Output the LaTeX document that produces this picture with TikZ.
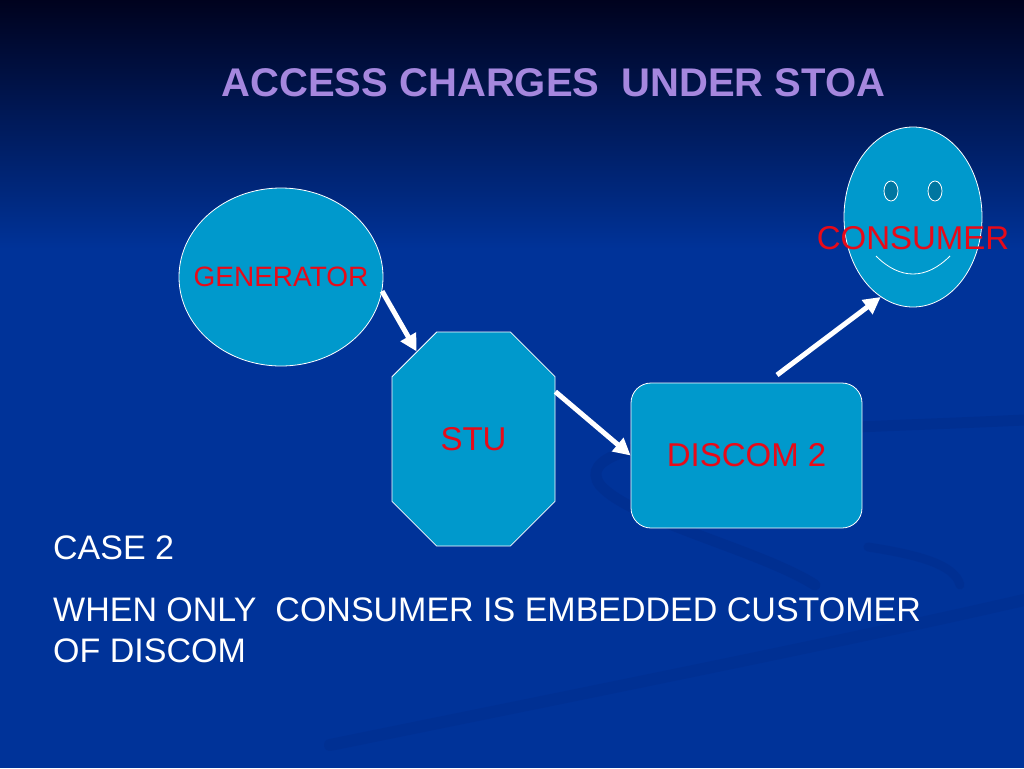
\documentclass[tikz,border=0pt]{standalone}
\usepackage{fontspec}
\setmainfont{Liberation Sans}
\usetikzlibrary{arrows.meta,shapes.geometric,shapes.misc}
\definecolor{slideTop}{RGB}{0,2,30}
\definecolor{slideBlue}{RGB}{0,51,153}
\definecolor{swooshBlue}{RGB}{0,36,125}
\definecolor{titleLilac}{RGB}{165,135,222}
\definecolor{boxTeal}{RGB}{0,153,204}
\definecolor{eyeTeal}{RGB}{0,118,160}
\definecolor{labelRed}{RGB}{232,10,24}
\newcommand{\titleSize}{\fontsize{40}{46}\selectfont}
\newcommand{\labelSize}{\fontsize{33}{38}\selectfont}
\newcommand{\smallLabelSize}{\fontsize{28}{32}\selectfont}
\newcommand{\bodySize}{\fontsize{34}{41}\selectfont}

\begin{document}
\begin{tikzpicture}[x=1pt, y=-1pt,
    shapebox/.style={fill=boxTeal, draw=white, line width=0.8pt, inner sep=0pt, text=labelRed},
    redlabel/.style={text=labelRed, inner sep=0pt},
    flow/.style={-{Triangle[length=17pt,width=17pt]}, white, line width=5pt},
    body/.style={anchor=base west, inner sep=0pt, text=white, font=\bodySize}]
  % slide background
  \useasboundingbox (0,0) rectangle (1024,768);
  \fill[slideBlue] (0,0) rectangle (1024,768);
  \shade[top color=slideTop, bottom color=slideBlue] (0,0) rectangle (1024,250);
  \draw[swooshBlue, line width=11pt, opacity=.25, line cap=round]
    (1024,420) .. controls (820,430) and (560,430) .. (600,485)
    .. controls (630,520) and (760,550) .. (815,585);
  \draw[swooshBlue, line width=9pt, opacity=.22, line cap=round]
    (868,547) .. controls (920,555) and (955,565) .. (960,585);
  \draw[swooshBlue, line width=12pt, opacity=.2, line cap=round]
    (330,745) .. controls (600,690) and (850,640) .. (1024,600);

  % nodes
  \node[shapebox, ellipse, minimum width=204pt, minimum height=178pt] (generator) at (281,277) {};
  \node[redlabel, font=\smallLabelSize] (generatorLabel) at (generator.center) {GENERATOR};
  \node[shapebox, chamfered rectangle, chamfered rectangle xsep=46pt, chamfered rectangle ysep=48pt,
        minimum width=163pt, minimum height=214pt, font=\labelSize] (stu) at (473.5,439) {STU};
  \node[shapebox, rectangle, rounded corners=20pt, minimum width=231pt, minimum height=145pt, font=\labelSize] (discom) at (746.5,455.5) {DISCOM 2};
  \node[shapebox, ellipse, minimum width=138pt, minimum height=180pt] (consumer) at (913,217) {};

  % face
  \foreach \ex in {891,935}
    \draw[fill=eyeTeal, draw=white, line width=0.8pt] (\ex,191) ellipse [x radius=7pt, y radius=10pt];
  \draw[white, line width=0.8pt] (876,256) .. controls (900,280) and (926,280) .. (950,256);
  \node[redlabel, font=\labelSize] (consumerLabel) at (913,238) {CONSUMER};

  % flows
  \draw[flow] (generator.-8) -- (stu.123);
  \draw[flow] (stu.30) -- (discom.west);
  \coordinate (discomOut) at (777,375);
  \draw[flow] (discomOut) -- (consumer.248);

  % texts
  \node[anchor=base, inner sep=0pt, text=titleLilac, font=\titleSize\bfseries] (title) at (553.5,96) {ACCESS CHARGES\ \ UNDER STOA};
  \node[body] (caseNo) at (53,559) {CASE 2};
  \node[body] (caseLine1) at (53,621) {WHEN ONLY\ \ CONSUMER IS EMBEDDED CUSTOMER};
  \node[body] (caseLine2) at (53,662) {OF DISCOM};
\end{tikzpicture}
\end{document}
